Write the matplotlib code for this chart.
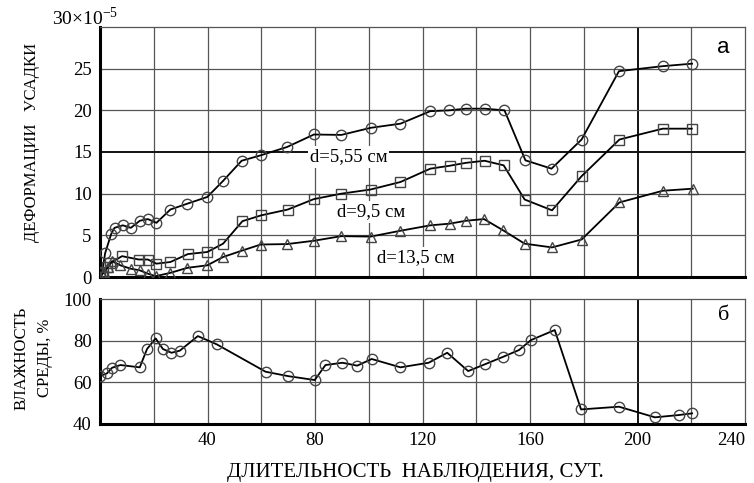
import matplotlib
matplotlib.use("Agg")
import matplotlib.pyplot as plt

plt.rcParams['font.family'] = ['Liberation Serif', 'DejaVu Serif']

# d = 5,55 cm (circles)
t_c = [0, 0.8, 1.9, 4.2, 5.4, 8.5, 11.5, 14.8, 17.8, 21, 26.2, 32.5, 39.9, 45.7, 52.7, 59.8,
       69.6, 79.6, 89.8, 100.7, 111.8, 122.9, 129.9, 136, 143.1, 150.5, 158.3, 168, 179.2,
       193.1, 209.4, 220.3]
v_c = [0, 0.5, 2.85, 5.2, 5.9, 6.2, 5.9, 6.75, 6.95, 6.5, 8.1, 8.8, 9.6, 11.5, 13.95, 14.6,
       15.6, 17.1, 17.05, 17.9, 18.4, 19.9, 20.0, 20.2, 20.2, 20.0, 14.0, 13.0, 16.5,
       24.7, 25.3, 25.6]
# d = 9,5 cm (squares)
t_s = [0, 1.2, 2.5, 3.9, 8.2, 14.4, 17.8, 21, 26.2, 32.7, 39.9, 45.8, 53, 60, 69.9, 79.6,
       89.8, 100.7, 111.8, 122.9, 130.1, 136.2, 143.1, 150.2, 158, 168.2, 179.2, 193.3,
       209.4, 220.2]
v_s = [0, 0.6, 1.2, 1.7, 2.5, 2.1, 2.1, 1.6, 1.8, 2.75, 3.0, 4.0, 6.7, 7.4, 8.1, 9.35,
       10.0, 10.5, 11.4, 13.0, 13.35, 13.7, 13.95, 13.4, 9.3, 8.0, 12.1, 16.5,
       17.8, 17.8]
# d = 13,5 cm (triangles)
t_t = [0, 1.5, 3.0, 4.5, 7.6, 11.4, 14.8, 17.8, 20.7, 26.2, 32.5, 39.9, 45.8, 52.7, 59.8,
       69.6, 79.6, 89.8, 100.7, 111.8, 122.9, 130.1, 136.2, 142.9, 150, 158, 168.2, 179.2,
       193.3, 209.4, 220.6]
v_t = [0, 0.6, 1.2, 1.9, 1.4, 1.0, 0.8, 0.4, 0.1, 0.5, 1.1, 1.4, 2.4, 3.15, 3.9,
       3.95, 4.35, 4.9, 4.85, 5.55, 6.2, 6.4, 6.75, 6.95, 5.6, 4.0, 3.55, 4.5,
       8.95, 10.35, 10.6]
# humidity
t_h = [0, 2.6, 4.5, 7.6, 14.8, 17.5, 20.7, 23.4, 26.6, 29.7, 36.4, 43.5, 61.6, 69.9, 79.9,
       83.9, 90.2, 95.7, 101.1, 111.8, 122.3, 129.2, 137, 143.1, 150.1, 155.9, 160.4, 169.2,
       179, 193.1, 206.5, 215.4, 220.3]
v_h = [63.0, 64.3, 67.0, 68.3, 67.2, 76.0, 81.1, 76.0, 74.2, 75.2, 82.2, 78.2, 65.1, 63.0,
       61.1, 68.3, 69.4, 68.0, 71.2, 67.2, 69.4, 74.2, 65.4, 68.6, 72.3, 75.5, 80.3, 85.1,
       47.0, 48.3, 43.2, 44.3, 45.1]

top_yticks = [0, 5, 10, 15, 20, 25]
bot_yticks = [40, 60, 80, 100]
bot_xticks = [40, 80, 120, 160, 200, 240]
labels_d = ["d=5,55 см", "d=9,5 см", "d=13,5 см"]

W, H = 754, 483
fig = plt.figure(figsize=(W / 100, H / 100), dpi=100)
axT = fig.add_axes([100 / W, 1 - 277 / H, 645 / W, 250 / H])
axB = fig.add_axes([100 / W, 1 - 424 / H, 645 / W, 125 / H])

grid_kw = dict(color='#555555', lw=0.9, zorder=1)
for ax in (axT, axB):
    ax.set_xlim(0, 240)
    for x in range(20, 240, 20):
        if x == 200:
            ax.axvline(x, color='#111111', lw=1.4, zorder=1)
        else:
            ax.axvline(x, **grid_kw)
    for s in ('top', 'right'):
        ax.spines[s].set_color('#555555')
        ax.spines[s].set_linewidth(0.9)
    for s in ('left', 'bottom'):
        ax.spines[s].set_color('black')
        ax.spines[s].set_linewidth(2.2)
    ax.tick_params(length=0, labelsize=13.5, pad=6)

axT.set_ylim(0, 30)
for y in range(5, 30, 5):
    if y == 15:
        axT.axhline(y, color='#111111', lw=1.4, zorder=1)
    else:
        axT.axhline(y, **grid_kw)
axT.set_yticks(top_yticks)
axT.set_xticks([])

axB.set_ylim(40, 100)
for y in (60, 80):
    axB.axhline(y, **grid_kw)
axB.set_yticks(bot_yticks)
axB.set_xticks(bot_xticks)
xl = axB.get_xticklabels()
xl[-1].set_horizontalalignment('right')

mk = dict(color='black', lw=1.3, mfc='none', mec='#444444', mew=1.0, zorder=3)
axT.plot(t_c, v_c, marker='o', ms=7.5, **mk)
axT.plot(t_s, v_s, marker='s', ms=6.5, **mk)
axT.plot(t_t, v_t, marker='^', ms=7, **mk)
axB.plot(t_h, v_h, marker='o', ms=7.5, **mk)

box = dict(facecolor='white', edgecolor='none', pad=1.5)
axT.text(92.5, 14.4, labels_d[0], fontsize=13.5, ha='center', va='center', bbox=box, zorder=4)
axT.text(101, 7.8, labels_d[1], fontsize=13.5, ha='center', va='center', bbox=box, zorder=4)
axT.text(117.5, 2.3, labels_d[2], fontsize=13.5, ha='center', va='center', bbox=box, zorder=4)
axT.text(232, 27.5, "а", fontsize=16, ha='center', va='center',
         family=['Liberation Sans', 'DejaVu Sans'])
axB.text(232, 92, "б", fontsize=16, ha='center', va='center')

fig.text(85 / W, 1 - 18 / H, "30×10$^{\\mathregular{-5}}$", fontsize=14, ha='center', va='center')
fig.text(32 / W, 1 - 142 / H, "ДЕФОРМАЦИИ   УСАДКИ", fontsize=12, rotation=90,
         ha='center', va='center')
fig.text(22 / W, 1 - 358 / H, "ВЛАЖНОСТЬ", fontsize=12, rotation=90, ha='center', va='center')
fig.text(45 / W, 1 - 358 / H, "СРЕДЫ, %", fontsize=12, rotation=90, ha='center', va='center')
fig.text(415 / W, 1 - 472 / H, "ДЛИТЕЛЬНОСТЬ  НАБЛЮДЕНИЯ, СУТ.", fontsize=15,
         ha='center', va='center')

fig.savefig("out.png", dpi=100)
